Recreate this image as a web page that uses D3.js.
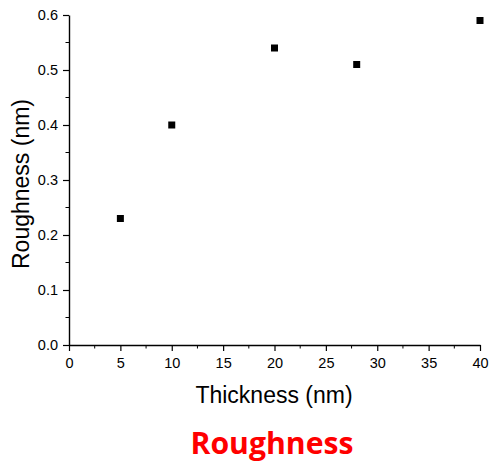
<!DOCTYPE html>
<html>
<head>
<meta charset="utf-8">
<script src="https://cdn.jsdelivr.net/npm/d3@7"></script>
<style>
  body { margin: 0; background: #fff; }
  svg { display: block; }
</style>
</head>
<body>
<div id="chart"></div>
<script>
// data
const thickness = [5, 10, 20, 28, 40];
const roughness = [0.23, 0.40, 0.54, 0.51, 0.59];
const xTicks = [0, 5, 10, 15, 20, 25, 30, 35, 40];
const yTicks = [0.0, 0.1, 0.2, 0.3, 0.4, 0.5, 0.6];

const W = 492, H = 467;
const margin = { top: 15, left: 69, right: 12, bottom: 122 };
const width = W - margin.left - margin.right,
      height = H - margin.top - margin.bottom;

const svg = d3.select("#chart").append("svg")
    .attr("width", W)
    .attr("height", H);

const g = svg.append("g")
    .attr("transform", "translate(" + margin.left + "," + margin.top + ")");

const x = d3.scaleLinear().domain([0, 40]).range([0, width]);
const y = d3.scaleLinear().domain([0, 0.6]).range([height, 0]);

// minor ticks halfway between the labelled ones
const xMinor = d3.range(0, 40.01, 2.5).filter(v => v % 5 !== 0);
const yMinor = d3.range(0, 0.601, 0.05).filter(v => Math.abs(v * 10 - Math.round(v * 10)) > 0.01);

const xAxis = g.append("g")
    .attr("transform", "translate(0," + height + ")")
    .call(d3.axisBottom(x).tickValues(xTicks).tickFormat(d3.format("d")).tickSize(6).tickSizeOuter(0));

xAxis.append("g").selectAll("line")
  .data(xMinor)
  .enter().append("line")
    .attr("x1", d => x(d)).attr("x2", d => x(d))
    .attr("y1", 0).attr("y2", 3.5)
    .attr("stroke", "#000");

const yAxis = g.append("g")
    .call(d3.axisLeft(y).tickValues(yTicks).tickFormat(d3.format(".1f")).tickSize(6).tickSizeOuter(0));

yAxis.append("g").selectAll("line")
  .data(yMinor)
  .enter().append("line")
    .attr("y1", d => y(d)).attr("y2", d => y(d))
    .attr("x1", 0).attr("x2", -3.5)
    .attr("stroke", "#000");

svg.selectAll(".domain").attr("stroke", "#000").attr("stroke-width", 1.4);
svg.selectAll(".tick line").attr("stroke", "#000").attr("stroke-width", 1.2);
svg.selectAll(".tick text")
    .attr("font-family", "Liberation Sans, Arial, sans-serif")
    .attr("font-size", 14.5)
    .attr("fill", "#000");
xAxis.selectAll(".tick text").attr("y", 23).attr("dy", 0);
yAxis.selectAll(".tick text").attr("x", -11).attr("dy", "0.34em");

// points
const pts = thickness.map((t, i) => [t, roughness[i]]);
const s = 7;
g.selectAll(".pt")
  .data(pts)
  .enter().append("rect")
    .attr("class", "pt")
    .attr("x", d => x(d[0]) - s / 2)
    .attr("y", d => y(d[1]) - s / 2)
    .attr("width", s)
    .attr("height", s)
    .attr("fill", "#000");

// axis titles
g.append("text")
    .attr("x", 274 - margin.left)
    .attr("y", 403 - margin.top)
    .attr("text-anchor", "middle")
    .attr("font-family", "Liberation Sans, Arial, sans-serif")
    .attr("font-size", 23)
    .text("Thickness (nm)");

svg.append("text")
    .attr("transform", "translate(29,184) rotate(-90)")
    .attr("text-anchor", "middle")
    .attr("font-family", "Liberation Sans, Arial, sans-serif")
    .attr("font-size", 23)
    .text("Roughness (nm)");

// caption
svg.append("text")
    .attr("x", 272)
    .attr("y", 454)
    .attr("text-anchor", "middle")
    .attr("font-family", "Open Sans, sans-serif")
    .attr("font-weight", "bold")
    .attr("font-size", 30)
    .attr("textLength", 163)
    .attr("lengthAdjust", "spacingAndGlyphs")
    .attr("fill", "#ff0000")
    .text("Roughness");
</script>
</body>
</html>
